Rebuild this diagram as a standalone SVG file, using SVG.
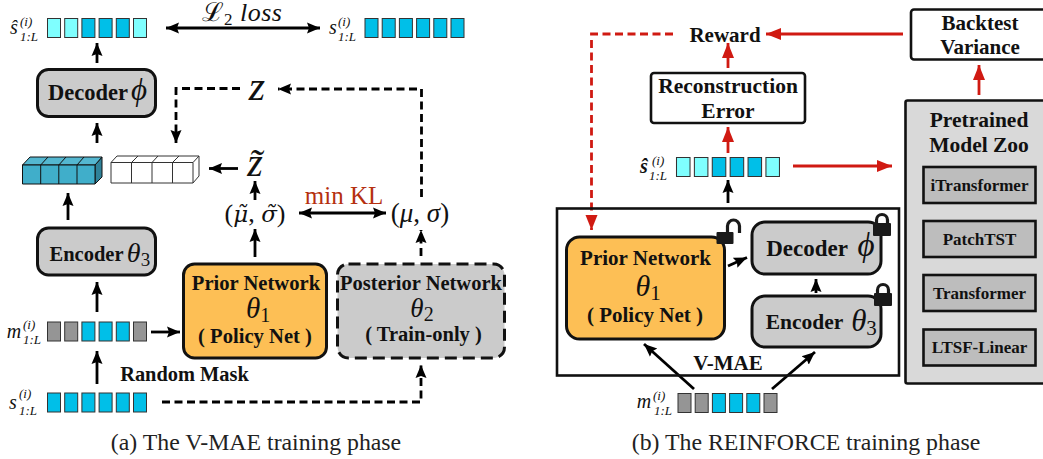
<svg xmlns="http://www.w3.org/2000/svg" xmlns:xlink="http://www.w3.org/1999/xlink" width="1043" height="459" viewBox="0 0 1043 459">
<style>
text{font-family:"Liberation Serif","Times New Roman",serif;fill:#111;text-anchor:middle}
.b{font-weight:bold}
.m{font-style:italic}
.n{font-style:normal}
.st{text-anchor:start}
.v{font-size:20px;font-style:italic}
.sp{font-size:13px;font-style:italic}
.cap{font-size:23.800px;fill:#222}
.box{stroke:#111;stroke-width:3;fill:#cbcbcb}
.pol{stroke:#111;stroke-width:3;fill:#fdbf55}
.wh{stroke:#111;stroke-width:2.600;fill:#fff}
.c{stroke:#333;stroke-width:1}
.t{fill:#00bfe8}.h{fill:#7fffff}.g{fill:#959595}
.blk{fill:none;stroke:#000;stroke-width:2.800}
.d{stroke-dasharray:8 4.500}
.red{fill:none;stroke:#d01a12;stroke-width:2.800}
.zoo{fill:#bdbdbd;stroke:#111;stroke-width:2.600}
.cube{stroke:#111;stroke-width:1}
.lock{fill:#1a1a1a}
.sh{fill:none;stroke:#1a1a1a;stroke-width:3.200}
.tl{font-family:"DejaVu Serif",serif;font-style:italic}
</style>
<defs>
<marker id="a" markerUnits="userSpaceOnUse" markerWidth="15" markerHeight="13" refX="13" refY="6.500" orient="auto"><path d="M0 1L13 6.500L0 12L2 6.500Z" fill="#000"/></marker>
<marker id="as" markerUnits="userSpaceOnUse" markerWidth="15" markerHeight="13" refX="0" refY="6.500" orient="auto"><path d="M13 1L0 6.500L13 12L11 6.500Z" fill="#000"/></marker>
<marker id="r" markerUnits="userSpaceOnUse" markerWidth="16" markerHeight="14" refX="15" refY="7" orient="auto"><path d="M0 1L15 7L0 13Z" fill="#d01a12"/></marker>
<g id="sHat"><rect class="c h" x="0" y="0" width="13" height="19"/><rect class="c h" x="17.200" y="0" width="13" height="19"/><rect class="c t" x="34.400" y="0" width="13" height="19"/><rect class="c t" x="51.600" y="0" width="13" height="19"/><rect class="c t" x="68.800" y="0" width="13" height="19"/><rect class="c h" x="86" y="0" width="13" height="19"/></g>
<g id="sFull"><rect class="c t" x="0" y="0" width="13" height="19"/><rect class="c t" x="17.200" y="0" width="13" height="19"/><rect class="c t" x="34.400" y="0" width="13" height="19"/><rect class="c t" x="51.600" y="0" width="13" height="19"/><rect class="c t" x="68.800" y="0" width="13" height="19"/><rect class="c t" x="86" y="0" width="13" height="19"/></g>
<g id="sMask"><rect class="c g" x="0" y="0" width="13" height="19"/><rect class="c g" x="17.200" y="0" width="13" height="19"/><rect class="c t" x="34.400" y="0" width="13" height="19"/><rect class="c t" x="51.600" y="0" width="13" height="19"/><rect class="c t" x="68.800" y="0" width="13" height="19"/><rect class="c g" x="86" y="0" width="13" height="19"/></g>
<g id="lockC"><path class="sh" d="M3.500 10V6a5.500 5.500 0 0 1 11 0V10"/><rect class="lock" x="0" y="9" width="18" height="13" rx="1"/></g>
</defs>

<g id="connectors">
<path class="blk" d="M97 63V43" marker-end="url(#a)"/>
<path class="blk" d="M166 28H320" marker-start="url(#as)" marker-end="url(#a)"/>
<path class="blk" d="M97 143V123" marker-end="url(#a)"/>
<path class="blk" d="M68 220V193" marker-end="url(#a)"/>
<path class="blk" d="M97 312V282" marker-end="url(#a)"/>
<path class="blk" d="M97 384V351" marker-end="url(#a)"/>
<path class="blk" d="M151 332H180" marker-end="url(#a)"/>
<path class="blk d" d="M162 402H421V365" marker-end="url(#a)"/>
<path class="blk d" d="M421 256V230" marker-end="url(#a)"/>
<path class="blk d" d="M421.500 197V89H278" marker-end="url(#a)"/>
<path class="blk d" d="M240 88.500H176V143" marker-end="url(#a)"/>
<path class="blk" d="M238 168.500H209" marker-end="url(#a)"/>
<path class="blk" d="M255 200V181" marker-end="url(#a)"/>
<path class="blk" d="M255 257V229" marker-end="url(#a)"/>
<path class="blk" d="M299 213H386" marker-start="url(#as)" marker-end="url(#a)"/>
<path class="blk" d="M728 203V180" marker-end="url(#a)"/>
<path class="blk" d="M694 389L644 344" marker-end="url(#a)"/>
<path class="blk" d="M772 389L815 352" marker-end="url(#a)"/>
<path class="blk" d="M728 266L747 257.500" marker-end="url(#a)"/>
<path class="blk" d="M816 293V279" marker-end="url(#a)"/>
<path class="red" d="M728 153V127" marker-end="url(#r)"/>
<path class="red" d="M728 68V43" marker-end="url(#r)"/>
<path class="red" d="M903 34H766" marker-end="url(#r)"/>
<path class="red d" d="M673 34H591.500V230" marker-end="url(#r)"/>
<path class="red" d="M793 166H892" marker-end="url(#r)"/>
<path class="red" d="M979 95V65" marker-end="url(#r)"/>
</g>

<g id="s-hat-left"><use href="#sHat" x="47.500" y="18.500"/><text class="v" x="14" y="34">ŝ</text><text class="sp st" x="20" y="26">(i)</text><text class="sp" x="29" y="41">1:L</text></g>
<g id="s-right"><use href="#sFull" x="365" y="18.500"/><text class="v" x="333" y="34">s</text><text class="sp st" x="338" y="26">(i)</text><text class="sp" x="347" y="41">1:L</text></g>
<g id="l2-label"><text x="242" y="21" font-size="26" class="m" letter-spacing="0.500"><tspan class="n">ℒ</tspan><tspan class="n" font-size="17" dy="4">2</tspan><tspan dy="-4"> loss</tspan></text></g>
<g id="decoder-a"><rect class="box" x="37.500" y="69.500" width="118" height="47" rx="11"/><text class="b" x="88" y="100" font-size="22.500">Decoder</text><text class="m" x="139" y="100" font-size="31">ϕ</text></g>
<g id="z-label"><text class="m" x="257" y="100" font-size="42">z</text></g>
<g id="z-tilde"><text class="m" x="255" y="176" font-size="40">z̃</text></g>
<g id="cube-filled">
<path d="M95 165L102 157V177L95 184Z" fill="#2f8299" class="cube"/>
<path d="M22.500 165L30 157H102L95 165Z" fill="#54b7d0" class="cube"/>
<path d="M22.500 165H95V184H22.500Z" fill="#40aeca" class="cube"/>
<path d="M40.700 165V184M58.800 165V184M77 165V184M40.700 165L48 157M58.800 165L66 157M77 165L84 157" fill="none" class="cube"/>
</g>
<g id="cube-empty">
<path d="M111 162.500H193V183H111ZM111 162.500L117 156H199L193 162.500M199 156V176L193 183" fill="#fff" stroke="#333" stroke-width="1"/>
<path d="M131.500 162.500V183M152 162.500V183M172.500 162.500V183M131.500 162.500L138 156M152 162.500L158 156M172.500 162.500L179 156" fill="none" stroke="#333" stroke-width="1"/>
</g>
<g id="mu-tilde"><text x="255" y="222" font-size="26">(<tspan class="tl" font-size="23">μ̃</tspan>, <tspan class="tl" font-size="23">σ̃</tspan>)</text></g>
<g id="mu"><text x="420" y="222" font-size="27">(<tspan class="m">μ</tspan>, <tspan class="m">σ</tspan>)</text></g>
<g id="min-kl"><text x="344" y="204" font-size="25" style="fill:#b5300f">min KL</text></g>
<g id="encoder-a"><rect class="box" x="37.500" y="228" width="118" height="47" rx="11"/><text class="b" x="86.500" y="261" font-size="20.500">Encoder</text><text class="m" x="138.500" y="262" font-size="28">θ<tspan class="n" font-size="19" dy="4">3</tspan></text></g>
<g id="m-left"><use href="#sMask" x="47.500" y="322"/><text class="v" x="14" y="338">m</text><text class="sp st" x="23" y="329">(i)</text><text class="sp" x="32" y="344">1:L</text></g>
<g id="s-left"><use href="#sFull" x="47.500" y="393"/><text class="v" x="13" y="409">s</text><text class="sp st" x="19" y="398">(i)</text><text class="sp" x="28" y="415">1:L</text></g>
<g id="random-mask"><text class="b" x="184.500" y="381" font-size="20.400">Random Mask</text></g>
<g id="prior-a"><rect class="pol" x="183.500" y="264" width="143" height="94" rx="11"/><text class="b" x="256" y="290" font-size="20.600">Prior Network</text><text class="m" x="258" y="318" font-size="29">θ<tspan class="n" font-size="20" dy="4">1</tspan></text><text class="b" x="255" y="343" font-size="20.600">( Policy Net )</text></g>
<g id="posterior"><rect x="337.500" y="264" width="167" height="94" rx="11" fill="#cbcbcb" stroke="#111" stroke-width="3" stroke-dasharray="12 6"/><text class="b" x="421" y="290" font-size="20.500">Posterior Network</text><text class="m" x="422" y="317" font-size="27">θ<tspan class="n" font-size="20" dy="4">2</tspan></text><text class="b" x="423.500" y="341" font-size="20.500">( Train-only )</text></g>
<g id="caption-a"><text class="cap" x="256" y="450">(a) The V-MAE training phase</text></g>

<g id="reward"><text class="b" x="725" y="42" font-size="21">Reward</text></g>
<g id="reconstruction"><rect class="wh" x="651" y="73" width="154" height="50" rx="3"/><text class="b" x="728" y="93" font-size="21.500">Reconstruction</text><text class="b" x="728" y="118" font-size="21.500">Error</text></g>
<g id="s-hat-right"><use href="#sHat" transform="translate(676.500 157.500) scale(1.040 1)"/><text class="v" x="644" y="173" font-weight="bold">ŝ</text><text class="sp st" x="652" y="165">(i)</text><text class="sp" x="658" y="180">1:L</text></g>
<g id="backtest"><rect class="wh" x="911" y="9.500" width="140" height="50" rx="3"/><text class="b" x="980" y="30" font-size="21">Backtest</text><text class="b" x="980" y="54" font-size="21">Variance</text></g>
<g id="model-zoo"><rect x="905.500" y="100.500" width="150" height="283" fill="#d9d9d9" stroke="#111" stroke-width="2.600" rx="2"/><text class="b" x="979" y="127" font-size="21.500">Pretrained</text><text class="b" x="979" y="152" font-size="21.500">Model Zoo</text>
<g id="itransformer"><rect class="zoo" x="923.500" y="167" width="112" height="36"/><text class="b" x="979.500" y="191" font-size="17">iTransformer</text></g>
<g id="patchtst"><rect class="zoo" x="923.500" y="221" width="112" height="36"/><text class="b" x="979.500" y="245" font-size="17">PatchTST</text></g>
<g id="transformer"><rect class="zoo" x="923.500" y="275" width="112" height="36"/><text class="b" x="979.500" y="299" font-size="17">Transformer</text></g>
<g id="ltsf"><rect class="zoo" x="923.500" y="329.500" width="112" height="36"/><text class="b" x="979.500" y="353" font-size="17">LTSF-Linear</text></g>
</g>
<g id="vmae-frame"><rect x="557" y="208.500" width="342" height="167" fill="none" stroke="#111" stroke-width="2.600"/><text class="b" x="728" y="370" font-size="21">V-MAE</text></g>
<g id="prior-b"><rect class="pol" x="566.500" y="237" width="158" height="102" rx="13"/><text class="b" x="645.500" y="265" font-size="21">Prior Network</text><text class="m" x="648" y="296" font-size="30">θ<tspan class="n" font-size="21" dy="4">1</tspan></text><text class="b" x="645" y="322" font-size="21">( Policy Net )</text>
<g id="unlock"><path class="sh" d="M727.500 233V226a6 6 0 0 1 12 0V233"/><rect class="lock" x="716.500" y="232" width="17" height="12" rx="1"/></g></g>
<g id="decoder-b"><rect class="box" x="752" y="222" width="129" height="52" rx="13"/><text class="b" x="807" y="256" font-size="23">Decoder</text><text class="m" x="866" y="256" font-size="33">ϕ</text><use href="#lockC" x="873" y="214"/></g>
<g id="encoder-b"><rect class="box" x="752" y="296" width="129" height="51" rx="13"/><text class="b" x="804.500" y="329" font-size="21.500">Encoder</text><text class="m" x="864" y="331" font-size="31">θ<tspan class="n" font-size="21" dy="4">3</tspan></text><use href="#lockC" x="874" y="284"/></g>
<g id="m-right"><use href="#sMask" x="678" y="393.500"/><text class="v" x="644" y="408">m</text><text class="sp st" x="653" y="400">(i)</text><text class="sp" x="663" y="415">1:L</text></g>
<g id="caption-b"><text class="cap" x="806" y="450">(b) The REINFORCE training phase</text></g>
</svg>
